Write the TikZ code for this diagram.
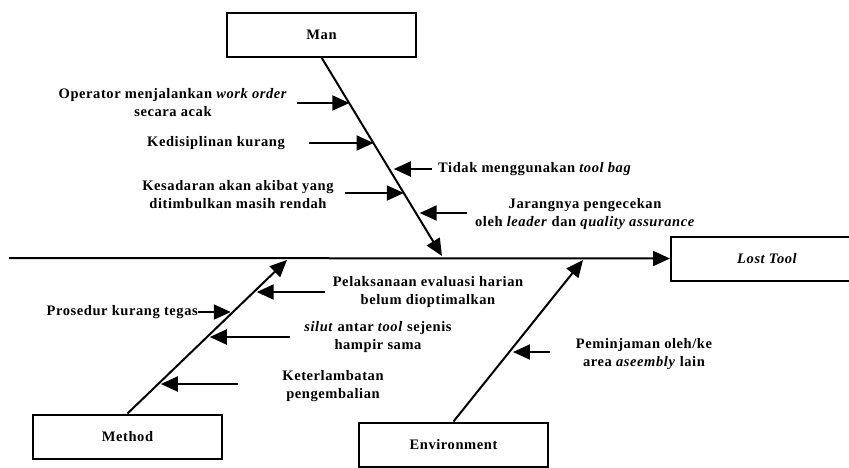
\documentclass[tikz,border=0pt]{standalone}
\usepackage{fontspec}
\setmainfont{Liberation Serif}[LetterSpace=4]
\usetikzlibrary{arrows.meta,calc}
\begin{document}
\begin{tikzpicture}[x=1pt,y=-1pt,
  lbl/.style={font=\fontsize{14.5}{18}\selectfont\bfseries, align=center, inner sep=0pt},
  box/.style={draw, line width=2pt, minimum width=189pt, minimum height=44pt, inner sep=0pt, font=\fontsize{14.5}{18}\selectfont\bfseries},
  arr/.style={line width=2pt, -{Triangle[length=17pt,width=15pt]}},
]
\useasboundingbox (0,0) rectangle (849,467);
\begin{scope}
\clip (0,0) rectangle (849,467);
% boxes
\node[box] (man) at (321.5,34.5) {Man};
\node[box] (method) at (127.5,436.5) {Method};
\node[box] (env) at (453.5,444.5) {Environment};
\node[box, minimum width=192pt, font=\fontsize{14.5}{18}\selectfont\bfseries\itshape] (lost) at (767,258.5) {Lost Tool};
\end{scope}

% main spine
\coordinate (tail) at (9,258);
\draw[arr] (tail) -- (lost.west);

% bones
\coordinate (manTip) at (442,256);
\coordinate (methTip) at (287,260);
\coordinate (envTip) at (583,260);
\draw[arr] (man.south) -- (manTip);
\draw[arr] (method.north) -- (methTip);
\draw[arr] (env.north) -- (envTip);

% points on bones
\coordinate (m1) at ($(man.south)!0.231!(manTip)$);
\coordinate (m2) at ($(man.south)!0.432!(manTip)$);
\coordinate (m3) at ($(man.south)!0.575!(manTip)$);
\coordinate (m4) at ($(man.south)!0.683!(manTip)$);
\coordinate (m5) at ($(man.south)!0.79!(manTip)$);
\coordinate (d1) at ($(method.north)!0.791!(methTip)$);
\coordinate (d2) at ($(method.north)!0.660!(methTip)$);
\coordinate (d3) at ($(method.north)!0.497!(methTip)$);
\coordinate (d4) at ($(method.north)!0.190!(methTip)$);
\coordinate (e1) at ($(env.north)!0.436!(envTip)$);

% Man causes
\node[lbl] (t1) at (173,103) {Operator menjalankan \textit{work order}\\secara acak};
\node[lbl] (t2) at (216,143) {Kedisiplinan kurang};
\node[lbl, anchor=west] (t3) at (438,169) {Tidak menggunakan \textit{tool bag}};
\node[lbl] (t4) at (238,195) {Kesadaran akan akibat yang\\ditimbulkan masih rendah};
\node[lbl] (t5) at (585,214) {Jarangnya pengecekan\\oleh \textit{leader} dan \textit{quality assurance}};
\coordinate (a1) at (297,103);
\coordinate (a2) at (309,143);
\coordinate (a3) at (432,169);
\coordinate (a4) at (345,193);
\coordinate (a5) at (467,213);
\draw[arr] (a1) -- (m1 |- a1);
\draw[arr] (a2) -- (m2 |- a2);
\draw[arr] (a3) -- ([xshift=3pt]m3 |- a3);
\draw[arr] (a4) -- (m4 |- a4);
\draw[arr] (a5) -- ([xshift=3pt]m5 |- a5);

% Method causes
\node[lbl] (u1) at (428,292) {Pelaksanaan evaluasi harian\\belum dioptimalkan};
\node[lbl, anchor=east] (u2) at (198,312) {Prosedur kurang tegas};
\node[lbl] (u3) at (378,337) {\textit{silut} antar \textit{tool} sejenis\\hampir sama};
\node[lbl] (u4) at (333,386) {Keterlambatan\\pengembalian};
\coordinate (b1) at (325,292);
\coordinate (b3) at (290,337);
\coordinate (b4) at (238,384);
\draw[arr] (b1) -- ([xshift=3pt]d1 |- b1);
\draw[arr] (u2.east) -- ([xshift=-2pt]d2 |- u2.east);
\draw[arr] (b3) -- ([xshift=3pt]d3 |- b3);
\draw[arr] (b4) -- ([xshift=3pt]d4 |- b4);

% Environment cause
\node[lbl] (v1) at (644,354) {Peminjaman oleh/ke\\area \textit{aseembly} lain};
\coordinate (c1) at (550,352);
\draw[arr] (c1) -- ([xshift=3pt]e1 |- c1);
\end{tikzpicture}
\end{document}
